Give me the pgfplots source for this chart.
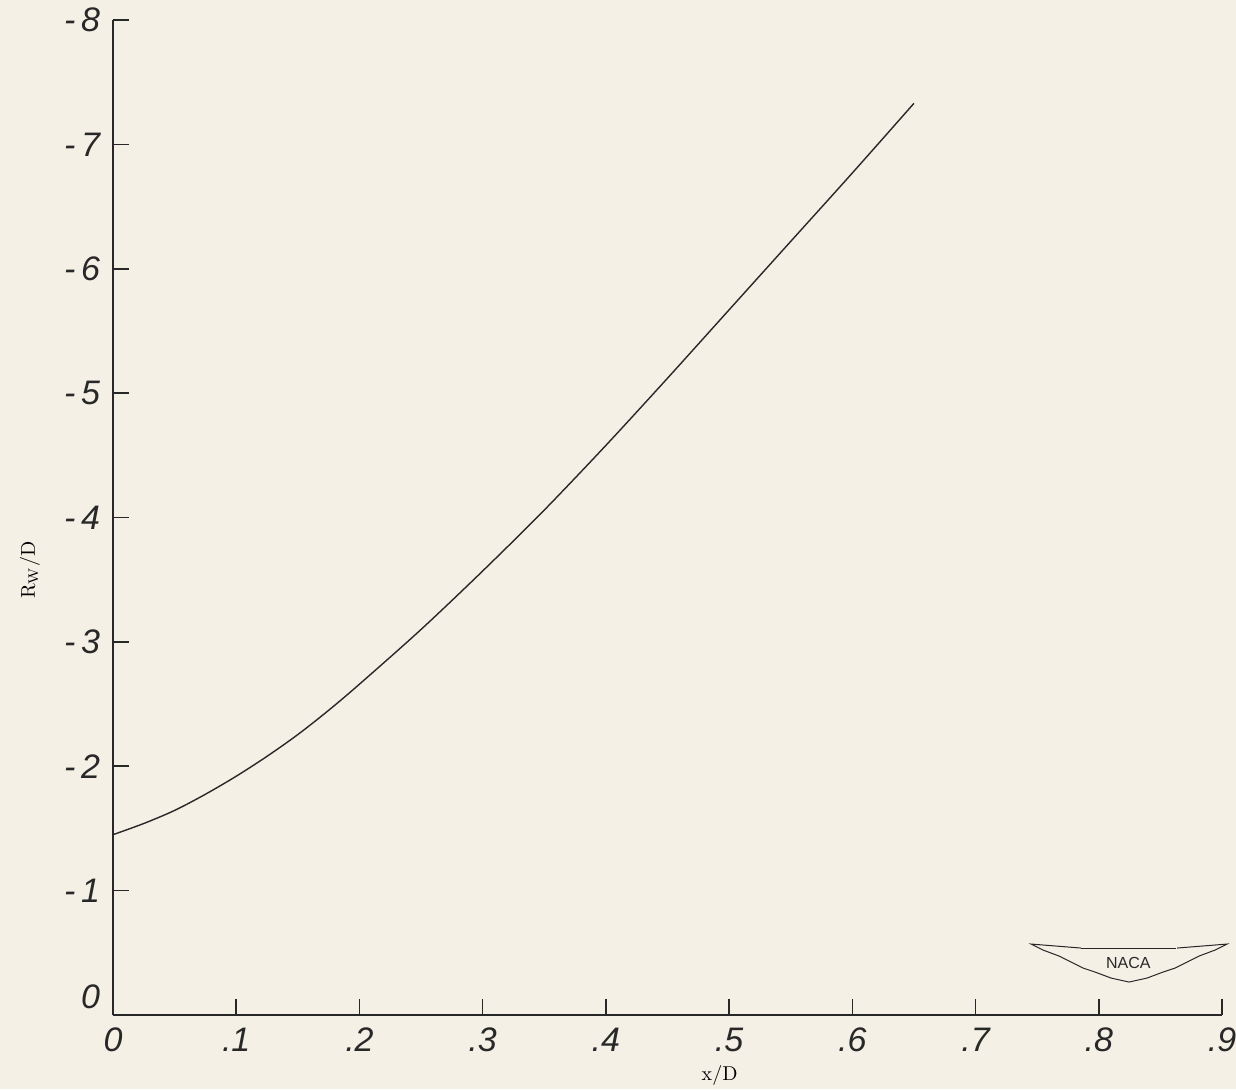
\documentclass[border=0pt]{standalone}
\usepackage{pgfplots}
\pgfplotsset{compat=1.18}
\usepackage{fontspec}
\newfontfamily\hand{Liberation Sans}
\definecolor{paper}{RGB}{244,240,230}
\definecolor{ink}{RGB}{40,40,40}
\begin{document}
\begin{tikzpicture}
\path[use as bounding box, fill=paper] (-56.5pt,-37pt) rectangle (561.5pt,507.5pt);
\begin{axis}[
  at={(0,0)}, anchor=south west,
  scale only axis, width=554.5pt, height=497.5pt,
  xmin=0, xmax=0.9, ymin=-8, ymax=0, y dir=reverse,
  axis lines=left, axis line style={-, line width=0.8pt, ink},
  tick align=inside, major tick length=8pt, tick style={line width=0.8pt, ink},
  xtick={0,0.1,0.2,0.3,0.4,0.5,0.6,0.7,0.8,0.9},
  xticklabels={0,.1,.2,.3,.4,.5,.6,.7,.8,.9},
  ytick={-8,-7,-6,-5,-4,-3,-2,-1,0},
  yticklabels={{-\,8},{-\,7},{-\,6},{-\,5},{-\,4},{-\,3},{-\,2},{-\,1},\raisebox{18pt}{0}},
  ticklabel style={font=\hand\itshape\fontsize{17}{20}\selectfont, text=ink},
  yticklabel style={xshift=-3pt},
  xticklabel style={yshift=-3pt},
  xlabel={x/D}, ylabel={R$_{\mathrm{W}}$/D},
  label style={font=\fontsize{10}{12}\selectfont, text=ink},
  every axis x label/.style={at={(axis description cs:0.547,0)}, yshift=-30pt, anchor=center},
  every axis y label/.style={at={(axis description cs:0,0.447)}, xshift=-41.5pt, rotate=90, anchor=center},
  clip=false,
]
\addplot[smooth, line width=0.7pt, ink] coordinates {
  (0,-1.45) (0.025,-1.54) (0.05,-1.645) (0.075,-1.775) (0.1,-1.92) (0.125,-2.08)
  (0.15,-2.255) (0.175,-2.45) (0.2,-2.66) (0.25,-3.10)
  (0.3,-3.57) (0.35,-4.06) (0.4,-4.58) (0.45,-5.12) (0.5,-5.67) (0.55,-6.22)
  (0.6,-6.77) (0.65,-7.33)
};
\node[font=\hand\fontsize{8}{9}\selectfont, text=ink] (naca) at (axis cs:0.824,-0.42) {NACA};
\draw[ink, line width=0.5pt] ([xshift=-9pt,yshift=1pt]naca.north west) -- ++(-25pt,2pt)
  -- ++(6pt,-3pt) -- ++(8pt,-3pt) -- ++(6pt,-3pt) -- ++(6pt,-3pt) -- ++(6pt,-2pt) -- ++(8pt,-3pt) -- ++(9pt,-2pt)
  -- ++(9pt,2pt) -- ++(8pt,3pt) -- ++(6pt,2pt) -- ++(6pt,3pt) -- ++(6pt,3pt) -- ++(8pt,3pt) -- ++(6pt,3pt) -- ++(-25pt,-2pt);
\draw[ink, line width=0.5pt] ([xshift=-9pt,yshift=1pt]naca.north west) -- ([xshift=9pt,yshift=1pt]naca.north east);
\end{axis}
\end{tikzpicture}
\end{document}
